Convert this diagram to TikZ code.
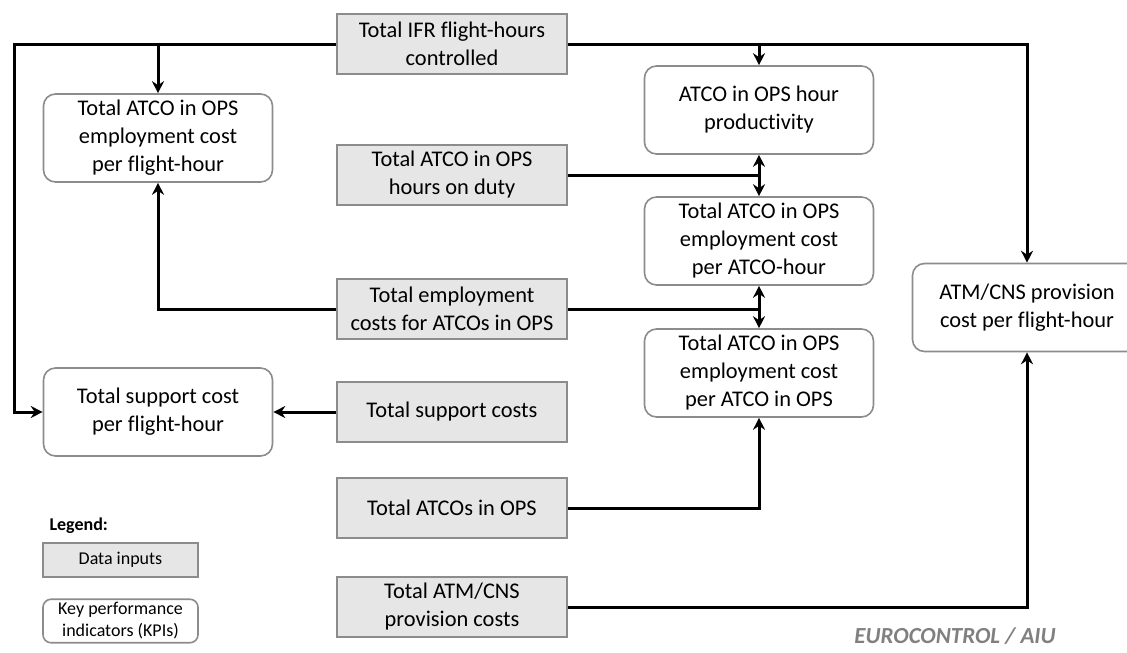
\documentclass[tikz,border=0pt]{standalone}
\usepackage{fontspec}
\setmainfont{Carlito}[Ligatures={NoCommon,NoRare,NoContextual}]
\usepackage{tikz}
\usetikzlibrary{arrows.meta, positioning, calc}
\definecolor{mydark}{RGB}{0,0,0}
\definecolor{boxedge}{RGB}{140,140,140}
\definecolor{inputfill}{RGB}{231,230,230}
\definecolor{credit}{RGB}{128,128,128}
\tikzset{
  datain/.style={rectangle, draw=boxedge, fill=inputfill, line width=1.6pt,
    minimum width=230pt, minimum height=60pt, align=center,
    font=\fontsize{22.4}{28}\selectfont},
  kpi/.style={rectangle, draw=boxedge, fill=white, line width=1.6pt,
    rounded corners=12pt, minimum width=229pt, minimum height=88pt,
    align=center, font=\fontsize{22.4}{28}\selectfont},
  arrow/.style={-{Stealth[length=12pt, width=12pt, inset=4pt]}, line width=3pt, color=mydark},
  line/.style={line width=3pt, color=mydark}
}

\begin{document}
\begin{tikzpicture}[x=1pt, y=-1pt]
    \useasboundingbox (0,0) rectangle (1127,653);
    \clip (0,0) rectangle (1127,653);

    % Data inputs
    \node[datain] (ifr) at (452,44) {Total IFR flight-hours\\controlled};
    \node[datain] (duty) at (452,175) {Total ATCO in OPS\\hours on duty};
    \node[datain] (empcost) at (452,309) {Total employment\\costs for ATCOs in OPS};
    \node[datain] (supcost) at (452,412) {Total support costs};
    \node[datain] (atcos) at (452,508) {Total ATCOs in OPS};
    \node[datain] (provcost) at (452,607) {Total ATM/CNS\\provision costs};

    % Key performance indicators
    \node[kpi] (empfh) at (158,138) {Total ATCO in OPS\\employment cost\\per flight-hour};
    \node[kpi] (supfh) at (158,412) {Total support cost\\per flight-hour};
    \node[kpi] (prod) at (759,110) {ATCO in OPS hour\\produc{}tivity};
    \node[kpi] (emphr) at (759,241) {Total ATCO in OPS\\employment cost\\per ATCO-hour};
    \node[kpi] (empatco) at (759,373) {Total ATCO in OPS\\employment cost\\per ATCO in OPS};
    \node[kpi] (provfh) at (1027,307.5) {ATM/CNS provision\\cost per flight-hour};

    % Junctions
    \coordinate (cornerL) at (14,44);
    \coordinate (jduty) at (duty.east -| prod.south);
    \coordinate (jemp) at (empcost.east -| emphr.south);

    % Flight-hours
    \draw[arrow] (ifr.west) -- (cornerL) |- (supfh.west);
    \draw[arrow] (ifr.west) -| (empfh.north);
    \draw[arrow] (ifr.east) -| (provfh.north);
    \draw[arrow] (ifr.east) -| (prod.north);

    % Hours on duty
    \draw[line] (duty.east) -- (jduty);
    \draw[arrow] (jduty) -- (prod.south);
    \draw[arrow] (jduty) -- (emphr.north);

    % Employment costs
    \draw[line] (empcost.east) -- (jemp);
    \draw[arrow] (jemp) -- (emphr.south);
    \draw[arrow] (jemp) -- (empatco.north);
    \draw[arrow] (empcost.west) -| (empfh.south);

    % Remaining inputs
    \draw[arrow] (supcost.west) -- (supfh.east);
    \draw[arrow] (atcos.east) -| (empatco.south);
    \draw[arrow] (provcost.east) -| (provfh.south);

    % Legend
    \node[anchor=west, font=\fontsize{18}{22}\selectfont\bfseries] (legtitle) at (46,526) {Legend:};
    \node[datain, minimum width=155pt, minimum height=34pt, font=\fontsize{18}{22}\selectfont] (legdata) at (120.5,560) {Data inputs};
    \node[kpi, minimum width=155pt, minimum height=42pt, rounded corners=8pt, font=\fontsize{18}{22}\selectfont] (legkpi) at (120.5,621) {Key performance\\indicators (KPIs)};

    % Credit
    \node[anchor=base, text=credit, font=\fontsize{23}{26}\selectfont\bfseries\itshape] (credit) at (955,643) {EUROCONTROL / AIU};
\end{tikzpicture}
\end{document}
